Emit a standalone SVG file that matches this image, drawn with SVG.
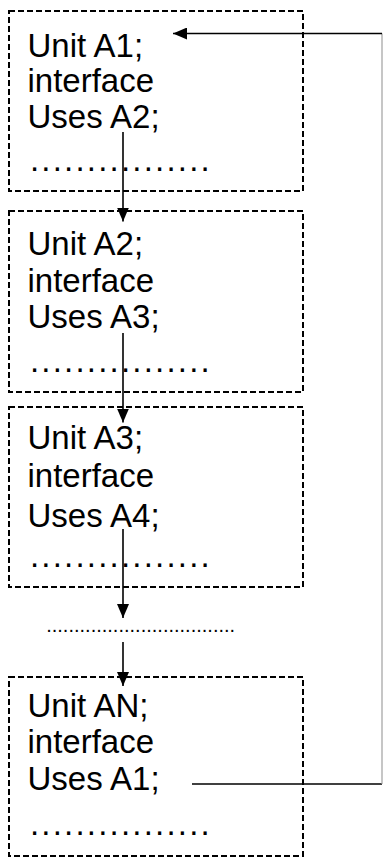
<svg xmlns="http://www.w3.org/2000/svg" width="383" height="865" viewBox="0 0 383 865">
<style>
.box{fill:none;stroke:#000;stroke-width:2;stroke-dasharray:6 3}
.t{font-family:"Liberation Sans",Arial,sans-serif;font-size:33px;fill:#000}
.d{font-family:"Liberation Sans",Arial,sans-serif;font-size:33px;fill:#000;letter-spacing:2.2px}
.c{fill:none;stroke:#000;stroke-width:1.6}
.g{fill:none;stroke:#a0a0a0;stroke-width:1.2}
</style>
<defs>
<marker id="ah" markerWidth="14" markerHeight="12" refX="14" refY="6" orient="auto" markerUnits="userSpaceOnUse">
<path d="M0,0 L14,6 L0,12 Z" fill="#000"/>
</marker>
</defs>
<rect width="383" height="865" fill="#fff"/>
<g id="unitA1">
<rect class="box" x="9" y="11" width="294" height="180"/>
<text class="t" x="27.5" y="57">Unit A1;</text>
<text class="t" x="27.5" y="92">interface</text>
<text class="t" x="27.5" y="127.5">Uses A2;</text>
<text class="d" x="30" y="171">................</text>
</g>
<g id="unitA2">
<rect class="box" x="9" y="211" width="294" height="181"/>
<text class="t" x="27.5" y="255">Unit A2;</text>
<text class="t" x="27.5" y="291.5">interface</text>
<text class="t" x="27.5" y="328">Uses A3;</text>
<text class="d" x="30" y="371.5">................</text>
</g>
<g id="unitA3">
<rect class="box" x="9" y="407" width="294" height="180"/>
<text class="t" x="27.5" y="449">Unit A3;</text>
<text class="t" x="27.5" y="486.5">interface</text>
<text class="t" x="27.5" y="526.5">Uses A4;</text>
<text class="d" x="30" y="567">................</text>
</g>
<g id="ellipsis">
<text x="46.2" y="632" style="font-family:'Liberation Sans',Arial,sans-serif;font-size:20px;fill:#000">..................................</text>
</g>
<g id="unitAN">
<rect class="box" x="9" y="677" width="294" height="179"/>
<text class="t" x="27.5" y="716.5">Unit AN;</text>
<text class="t" x="27.5" y="753">interface</text>
<text class="t" x="27.5" y="790">Uses A1;</text>
<text class="d" x="30" y="835">................</text>
</g>
<g id="connectors">
<line class="c" x1="123" y1="132" x2="123" y2="221.5" marker-end="url(#ah)"/>
<line class="c" x1="123" y1="333" x2="123" y2="422.5" marker-end="url(#ah)"/>
<line class="c" x1="123" y1="529" x2="123" y2="618" marker-end="url(#ah)"/>
<line class="c" x1="123" y1="642" x2="123" y2="686" marker-end="url(#ah)"/>
<line class="c" x1="192" y1="784" x2="382" y2="784"/>
<line class="g" x1="382" y1="33.5" x2="382" y2="784"/>
<line class="c" x1="382" y1="33.5" x2="173" y2="33.5" marker-end="url(#ah)"/>
</g>
</svg>
